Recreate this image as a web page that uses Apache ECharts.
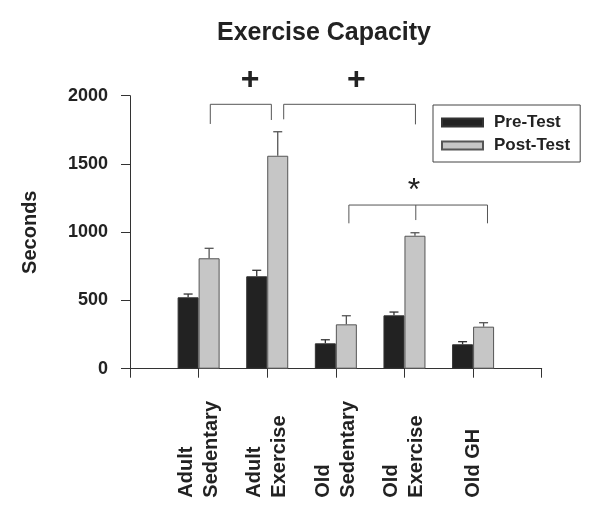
<!DOCTYPE html>
<html>
<head>
<meta charset="utf-8">
<script src="https://cdn.jsdelivr.net/npm/echarts@6/dist/echarts.min.js"></script>
<style>html,body{margin:0;padding:0;background:#fff;}#c{width:600px;height:518px;}</style>
</head>
<body>
<div id="c"></div>
<script>
// ---- data ----
var categories = ['', 'Adult\nSedentary', 'Adult\nExercise', 'Old\nSedentary', 'Old\nExercise', 'Old GH', ''];
var preTest = [null, 523, 677, 186, 391, 179, null];
var preErr  = [null, 547, 721, 212, 415, 198, null];
var postTest = [null, 809, 1560, 325, 974, 308, null];
var postErr  = [null, 882, 1736, 388, 996, 337, null];
var yTicks = [0, 500, 1000, 1500, 2000];
// significance brackets (x in category units, y in seconds)
var bracketX1 = [1.17, 2.24, 3.19];
var bracketX2 = [2.06, 4.16, 5.21];
var bracketTop = [1937, 1937, 1199];
var bracketLeftEnd = [1793, 1827, 1065];
var bracketRightEnd = [1822, 1790, 1065];
var bracketMidX = [null, null, 4.165];
var bracketMidEnd = [null, null, 1089];
var markText = ['+', '+', '*'];
var markX = [1.75, 3.30, 4.14];
var markY = [2115, 2115, 1351];

var FONT = "'Liberation Sans', Arial, sans-serif";
var BARW = 21;

function errData(vals, errs) {
  var out = [];
  for (var i = 0; i < vals.length; i++) if (vals[i] != null) out.push([i, vals[i], errs[i]]);
  return out;
}
function errRender(offset, color) {
  return function (params, api) {
    var p0 = api.coord([api.value(0), api.value(1)]);
    var p1 = api.coord([api.value(0), api.value(2)]);
    var x = p0[0] + offset;
    var st = { stroke: color, lineWidth: 1.3 };
    return { type: 'group', children: [
      { type: 'line', shape: { x1: x, y1: p0[1], x2: x, y2: p1[1] }, style: st },
      { type: 'line', shape: { x1: x - 4.5, y1: p1[1], x2: x + 4.5, y2: p1[1] }, style: st }
    ]};
  };
}
var bracketData = bracketX1.map(function (x1, i) {
  return [x1, bracketTop[i], bracketX2[i], bracketLeftEnd[i], bracketRightEnd[i],
          bracketMidX[i] == null ? -1 : bracketMidX[i], bracketMidEnd[i] == null ? -1 : bracketMidEnd[i]];
});
var markData = markX.map(function (x, i) { return [x, markY[i], i]; });

var chart = echarts.init(document.getElementById('c'), null, { renderer: 'canvas' });
chart.setOption({
  animation: false,
  backgroundColor: '#fff',
  title: {
    text: 'Exercise Capacity', left: 319, top: 16, textAlign: 'center',
    textStyle: { fontFamily: FONT, fontSize: 25, fontWeight: 'bold', color: '#222' }
  },
  legend: {
    orient: 'vertical', left: 433, top: 105, padding: [9, 10, 8, 8],
    itemWidth: 41, itemHeight: 8, itemGap: 6, icon: 'rect',
    borderColor: '#444', borderWidth: 1,
    data: ['Pre-Test', 'Post-Test'],
    textStyle: { fontFamily: FONT, fontSize: 17, fontWeight: 'bold', color: '#222', padding: [0, 0, 0, 6] }
  },
  grid: { left: 130, right: 58.3, top: 95.7, bottom: 149.3 },
  xAxis: [{
    type: 'category', data: categories, boundaryGap: false,
    axisLine: { lineStyle: { color: '#333', width: 1 } },
    axisTick: { length: 9, lineStyle: { color: '#333' }, interval: 0 },
    axisLabel: {
      interval: 0, rotate: 90, align: 'left', verticalAlign: 'middle', margin: 129,
      fontFamily: FONT, fontSize: 20, fontWeight: 'bold', color: '#222', lineHeight: 25
    }
  }, {
    type: 'value', min: 0, max: 6, show: false
  }],
  yAxis: {
    type: 'value', min: yTicks[0], max: yTicks[yTicks.length - 1], interval: 500,
    name: 'Seconds', nameLocation: 'middle', nameRotate: 90, nameGap: 90,
    nameTextStyle: { fontFamily: FONT, fontSize: 20, fontWeight: 'bold', color: '#222' },
    axisLine: { show: true, lineStyle: { color: '#333', width: 1 } },
    axisTick: { show: true, length: 9, lineStyle: { color: '#333' } },
    splitLine: { show: false },
    axisLabel: { margin: 22, fontFamily: FONT, fontSize: 18, fontWeight: 'bold', color: '#222',
      formatter: function (v) { return String(v); } }
  },
  series: [
    { name: 'Pre-Test', type: 'bar', data: preTest, barWidth: BARW, barGap: '0%',
      itemStyle: { color: '#222', borderColor: '#333', borderWidth: 1 } },
    { name: 'Post-Test', type: 'bar', data: postTest, barWidth: BARW, barGap: '0%',
      itemStyle: { color: '#c6c6c6', borderColor: '#555', borderWidth: 1 } },
    { name: 'preErr', type: 'custom', data: errData(preTest, preErr), z: 5,
      renderItem: errRender(-BARW / 2, '#333') },
    { name: 'postErr', type: 'custom', data: errData(postTest, postErr), z: 5,
      renderItem: errRender(BARW / 2, '#555') },
    { name: 'brackets', type: 'custom', xAxisIndex: 1, data: bracketData, clip: false, z: 5,
      renderItem: function (params, api) {
        var a = api.coord([api.value(0), api.value(1)]);
        var b = api.coord([api.value(2), api.value(1)]);
        var l = api.coord([api.value(0), api.value(3)]);
        var r = api.coord([api.value(2), api.value(4)]);
        var st = { stroke: '#555', lineWidth: 1 };
        var ch = [
          { type: 'polyline', shape: { points: [[l[0], l[1]], a, b, [r[0], r[1]]] }, style: { stroke: '#555', lineWidth: 1, fill: null } }
        ];
        if (api.value(5) >= 0) {
          var m0 = api.coord([api.value(5), api.value(1)]);
          var m1 = api.coord([api.value(5), api.value(6)]);
          ch.push({ type: 'line', shape: { x1: m0[0], y1: m0[1], x2: m1[0], y2: m1[1] }, style: st });
        }
        return { type: 'group', children: ch };
      } },
    { name: 'marks', type: 'custom', xAxisIndex: 1, data: markData, clip: false, z: 5,
      renderItem: function (params, api) {
        var p = api.coord([api.value(0), api.value(1)]);
        var idx = api.value(2);
        var t = markText[idx];
        var isStar = t === '*';
        return { type: 'text', x: p[0], y: p[1] + (isStar ? 7 : 0),
          style: { text: t, x: 0, y: 0, align: 'center', verticalAlign: 'middle',
            fontFamily: FONT, fontSize: isStar ? 32 : 32, fontWeight: isStar ? 'normal' : 'bold', fill: '#222' } };
      } }
  ]
});
</script>
</body>
</html>
